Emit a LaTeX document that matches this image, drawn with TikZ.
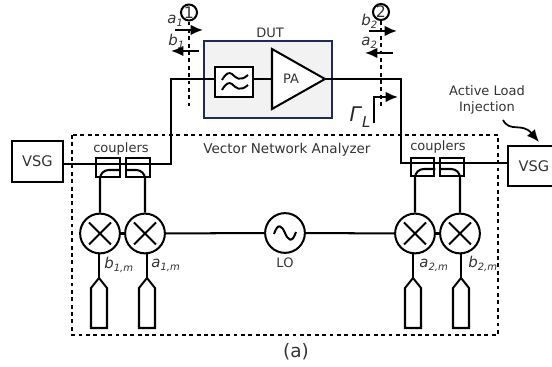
\documentclass[tikz,border=0pt]{standalone}
\usepackage{amssymb}
\usepackage{amsmath}
\usepackage{fontspec}
\usepackage{pgf,tikz}
\usepackage{tkz-euclide}
\usepackage{xcolor}
\setmainfont{DejaVu Sans}
\usetikzlibrary{arrows, calc, arrows.meta}
\definecolor{dutblue}{RGB}{31,41,92}
\definecolor{dutgray}{RGB}{242,242,242}
\newcommand{\wavelabel}[2]{\textit{#1}\raisebox{-0.35ex}{\fontsize{5.7}{6}\selectfont\textit{#2}}}
\tikzset{
  wire/.style={line width=1.15pt},
  plane/.style={line width=1.15pt, dash pattern=on 2.2pt off 2pt},
  wave/.style={line width=1.15pt, -{Latex[length=7pt,width=6pt]}},
  lbl/.style={font=\fontsize{7.4}{9}\selectfont, text=black!80, inner sep=0pt},
  sublbl/.style={lbl, anchor=west, font=\fontsize{8.5}{9}\selectfont},
  vsgbox/.style={draw, line width=1.15pt, inner sep=0pt, font=\fontsize{8.3}{9}\selectfont, text=black!80},
  couplerbox/.style={draw, line width=1.15pt, minimum width=0.47cm, minimum height=0.37cm, inner sep=0pt},
  portmark/.style={draw, circle, line width=1.15pt, minimum size=0.32cm, inner sep=0pt, font=\fontsize{9}{9}\selectfont, text=black!80},
  mixer/.style={draw, circle, line width=1.15pt, minimum size=0.795cm, inner sep=0pt,
    path picture={\draw[line width=1.15pt] (-11,-11) -- (11,11) (-11,11) -- (11,-11);}},
}
\begin{document}
\begin{tikzpicture}[x=0.02cm,y=-0.02cm]
        \useasboundingbox (0,0) rectangle (552,367);

        \tkzDefPoint(37.5,161.5){V_1}
        \tkzDefPoint(534,166){V_2}
        \tkzDefPoint(171,164){T_1}
        \tkzDefPoint(171,79){T_2}
        \tkzDefPoint(401,79){T_3}
        \tkzDefPoint(401,163){T_4}
        \tkzDefPoint(272,49){PA_1}
        \tkzDefPoint(272,109){PA_2}
        \tkzDefPoint(325,79){PA_3}
        \tkzDefPoint(189,106){R_3}
        \tkzDefPoint(381,106){R_4}

        % vector network analyzer
        \draw[plane] (72,135) rectangle (498,335);

        % DUT
        \node[draw=dutblue, fill=dutgray, line width=1.15pt, minimum width=2.56cm, minimum height=1.54cm, inner sep=0pt] (DUT) at (268,79.5) {};
        \node[lbl] (DUTlabel) at (270,33) {DUT};
        \node[draw, fill=white, line width=1.15pt, minimum width=0.75cm, minimum height=0.59cm, inner sep=0pt] (Filter) at (234,82) {};
        \draw[line width=1.1pt] (222,80) .. controls (226,73) and (229,72) .. (232,74) .. controls (236,78) and (240,82) .. (248,75);
        \draw[line width=1.1pt] (222,90) .. controls (226,83) and (229,82) .. (232,84) .. controls (236,88) and (240,92) .. (248,85);
        \draw[line width=1.15pt, fill=white] (PA_1) -- (PA_3) -- (PA_2) -- cycle;
        \node[lbl] (PAlabel) at (291,79) {PA};

        % sources
        \node[vsgbox, minimum width=1.02cm, minimum height=0.82cm] (VSG_1) at (V_1) {VSG};
        \node[vsgbox, minimum width=1.04cm, minimum height=0.8cm] (VSG_2) at (V_2) {VSG};

        % couplers
        \foreach \n/\x/\y in {C_1/108/167.5, C_2/138/167.5, C_3/422.5/167, C_4/452/167}
          \node[couplerbox] (\n) at (\x,\y) {};

        % mixers
        \foreach \n/\x in {M_1/100, M_2/145, M_3/415, M_4/460}
          \node[mixer] (\n) at (\x,233.5) {};
        \node[draw, circle, line width=1.15pt, minimum size=0.795cm, inner sep=0pt] (LO) at (285,233) {};
        \draw[line width=1.15pt] (274,234) .. controls (278,222) and (282,226) .. (285,233) .. controls (288,240) and (292,244) .. (296,232);
        \node[lbl] (LOlabel) at (285,263) {LO};

        % main line
        \draw[wire] (VSG_1.east |- T_1) -- (T_1) -- (T_2) -- (Filter.west |- T_2);
        \draw[wire] (Filter.east |- T_2) -- (PA_1 |- T_2);
        \draw[wire] (PA_3) -- (T_3) -- (T_4) -- (VSG_2.west |- T_4);

        % coupled ports
        \draw[wire, rounded corners=5pt] (M_1.north) -- (100,170) -- (C_1.east |- 0,170);
        \draw[wire, rounded corners=5pt] (M_2.north) -- (145,170) -- (C_2.west |- 0,170);
        \draw[wire, rounded corners=5pt] (M_3.north) -- (415,169) -- (C_3.east |- 0,169);
        \draw[wire, rounded corners=5pt] (M_4.north) -- (460,169) -- (C_4.west |- 0,169);

        % LO path
        \draw[wire] (M_1) -- (M_2);
        \draw[wire] (M_2) -- (LO);
        \draw[wire] (LO) -- (M_3);
        \draw[wire] (M_3) -- (M_4);

        % probes
        \foreach \n/\x/\m in {P_1/99/M_1, P_2/147/M_2, P_3/413/M_3, P_4/461/M_4}{
          \coordinate (\n) at (\x,278);
          \draw[wire] (\x,254) -- (\n);
          \draw[wire, line join=miter] (\n) -- ++(8,10) -- ++(0,40) -- ++(-16,0) -- ++(0,-40) -- cycle;
        }
        \node[sublbl] (B1m) at (104,265) {\wavelabel{b}{1,m}};
        \node[sublbl] (A1m) at (151,265) {\wavelabel{a}{1,m}};
        \node[sublbl] (A2m) at (419,265) {\wavelabel{a}{2,m}};
        \node[sublbl] (B2m) at (468,264) {\wavelabel{b}{2,m}};

        % reference planes
        \node[portmark] (R_1) at (189,12.5) {1};
        \node[portmark] (R_2) at (381,12) {2};
        \draw[plane] (R_1) -- (R_3);
        \draw[plane] (R_2) -- (R_4);

        % waves
        \draw[wave] (175,30) -- (203,30);
        \draw[wave] (199,51) -- (171,51);
        \draw[wave] (369,31) -- (397,31);
        \draw[wave] (393,53) -- (365,53);
        \node[sublbl] (A1) at (167,21) {\wavelabel{a}{1}};
        \node[sublbl] (B1) at (168,41) {\wavelabel{b}{1}};
        \node[sublbl] (B2) at (361,21) {\wavelabel{b}{2}};
        \node[sublbl] (A2) at (361,43) {\wavelabel{a}{2}};

        % load
        \draw[wave] (374,123) -- (374,97) -- (398,97);
        \node[font=\fontsize{11.5}{13}\selectfont, inner sep=0pt, text=black!85] (Gamma) at (360,117) {\textit{Γ}\raisebox{-0.5ex}{\fontsize{8.5}{9}\selectfont\textit{L}}};

        % labels
        \node[lbl, font=\fontsize{7.7}{9}\selectfont] (VNA) at (287,150) {Vector Network Analyzer};
        \node[lbl] (CPL_1) at (121,149) {couplers};
        \node[lbl] (CPL_2) at (438,147) {couplers};
        \node[lbl, align=center] (ALI) at (487,100) {Active Load\\Injection};
        \node[lbl, font=\fontsize{10.5}{12}\selectfont] (Sub) at (296,352) {(a)};

        % injection arrow
        \coordinate (S_1) at (503,120);
        \draw[line width=1pt, -{Latex[length=7pt,width=6pt]}] (S_1) .. controls (510,133) and (522,122) .. (539,142);
\end{tikzpicture}
\end{document}
